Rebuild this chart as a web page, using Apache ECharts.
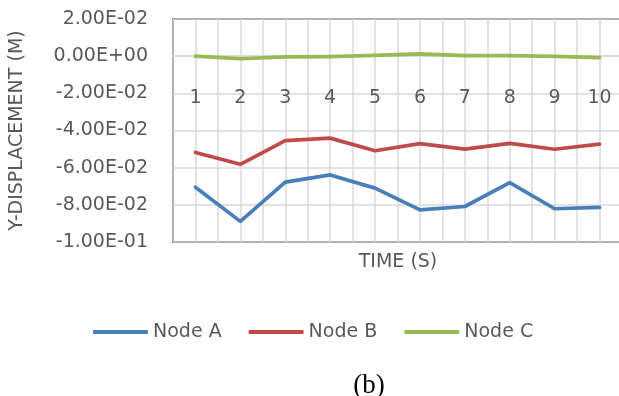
<!DOCTYPE html>
<html>
<head>
<meta charset="utf-8">
<script src="https://cdn.jsdelivr.net/npm/echarts@6/dist/echarts.min.js"></script>
<style>
html,body{margin:0;padding:0;background:#fff;}
#chart{width:619px;height:396px;}
</style>
</head>
<body>
<div id="chart"></div>
<script>
const times = [1, 2, 3, 4, 5, 6, 7, 8, 9, 10];
const nodeA = [-0.0705, -0.0889, -0.0678, -0.0639, -0.0710, -0.0827, -0.0809, -0.0680, -0.0821, -0.0814];
const nodeB = [-0.0518, -0.0582, -0.0455, -0.0441, -0.0509, -0.0471, -0.0500, -0.0469, -0.0501, -0.0473];
const nodeC = [0.0000, -0.0014, -0.0004, -0.0002, 0.0004, 0.0012, 0.0003, 0.0003, -0.0001, -0.0008];
const seriesNames = ['Node A', 'Node B', 'Node C'];
const yTitle = 'Y-DISPLACEMENT (M)';
const xTitle = 'TIME (S)';
const caption = '(b)';
const yMin = -0.1, yMax = 0.02, yStep = 0.02;

const FONT = 'DejaVu Sans';
const GRAY = '#595959';
const GRID = { left: 173, top: 19, width: 449, height: 223 };
// place the category labels on the zero line (axis crosses at 0)
const zeroOffset = GRID.height * (0 - yMin) / (yMax - yMin);

function sci(v) {
  const r = Math.round(v * 1e6) / 1e6;
  const s = r.toExponential(2);
  const parts = s.split('e');
  let exp = parseInt(parts[1], 10);
  const sign = exp < 0 ? '-' : '+';
  exp = Math.abs(exp);
  return parts[0] + 'E' + sign + (exp < 10 ? '0' + exp : '' + exp);
}

const chart = echarts.init(document.getElementById('chart'));
const mk = arr => times.map((t, i) => [t, arr[i]]);
const lineSeries = (name, arr, color) => ({
  name: name,
  type: 'line',
  data: mk(arr),
  symbol: 'none',
  color: color,
  lineStyle: { width: 3.7, color: color, cap: 'round', join: 'round' },
  animation: false
});

chart.setOption({
  animation: false,
  grid: Object.assign({ show: true, borderColor: '#000', borderWidth: 1.5, outerBoundsMode: 'none', containLabel: false }, GRID),
  xAxis: {
    type: 'value', min: 0.5, max: 10.5, interval: 0.5,
    offset: -zeroOffset,
    axisLine: { show: true, onZero: false, lineStyle: { color: '#D9D9D9', width: 1.5 } },
    axisTick: { show: false },
    axisLabel: {
      margin: 32, fontFamily: FONT, fontSize: 19, color: GRAY,
      showMinLabel: true, showMaxLabel: true,
      formatter: v => (Math.abs(v - Math.round(v)) < 1e-9 && v >= 1 && v <= 10) ? String(Math.round(v)) : ''
    },
    splitLine: { show: true, lineStyle: { color: '#D9D9D9', width: 1.5 } }
  },
  yAxis: {
    type: 'value', min: yMin, max: yMax, interval: yStep,
    axisLine: { show: false, onZero: false },
    axisTick: { show: false },
    axisLabel: { margin: 25, fontFamily: FONT, fontSize: 19, color: GRAY, formatter: v => sci(v) },
    splitLine: { show: true, lineStyle: { color: '#D9D9D9', width: 1.5 } },
    name: yTitle, nameLocation: 'middle', nameGap: 146, nameRotate: 90,
    nameTextStyle: { fontFamily: FONT, fontSize: 19, color: GRAY }
  },
  legend: {
    data: seriesNames, left: 93, top: 322, padding: 0, itemWidth: 55, itemHeight: 4, itemGap: 27,
    icon: 'roundRect',
    textStyle: { fontFamily: FONT, fontSize: 19, color: GRAY, lineHeight: 20 }
  },
  graphic: [
    { type: 'text', style: { text: xTitle, font: '19px "DejaVu Sans"', fill: GRAY, textAlign: 'center', textVerticalAlign: 'middle', x: 398, y: 262 } },
    { type: 'text', style: { text: caption, font: '27px "Liberation Serif"', fill: '#000', textAlign: 'center', textVerticalAlign: 'middle', x: 369, y: 386 } }
  ],
  series: [
    lineSeries(seriesNames[0], nodeA, '#4A7EBB'),
    lineSeries(seriesNames[1], nodeB, '#BE4B48'),
    lineSeries(seriesNames[2], nodeC, '#98B954')
  ]
});
</script>
</body>
</html>
